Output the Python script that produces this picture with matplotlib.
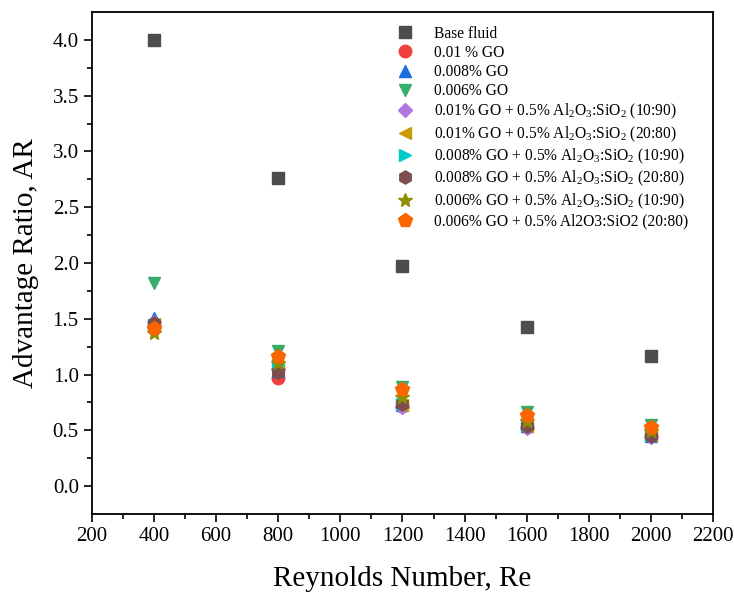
import matplotlib
matplotlib.use("Agg")
import matplotlib.pyplot as plt

plt.rcParams["font.family"] = ["Liberation Serif", "DejaVu Serif"]
plt.rcParams["mathtext.fontset"] = "custom"
plt.rcParams["mathtext.rm"] = "Liberation Serif"
plt.rcParams["mathtext.it"] = "Liberation Serif:italic"

re_vals = [400, 800, 1200, 1600, 2000]

base_fluid = [4.00, 2.76, 1.97, 1.43, 1.17]
go_010 = [1.43, 0.97, 0.72, 0.53, 0.45]
go_008 = [1.51, 1.03, 0.73, 0.54, 0.45]
go_006 = [1.82, 1.21, 0.89, 0.66, 0.55]
go_010_1090 = [1.47, 1.05, 0.71, 0.52, 0.44]
go_010_2080 = [1.45, 1.07, 0.73, 0.54, 0.46]
go_008_1090 = [1.44, 1.09, 0.74, 0.55, 0.46]
go_008_2080 = [1.46, 1.02, 0.74, 0.54, 0.45]
go_006_1090 = [1.37, 1.10, 0.80, 0.58, 0.49]
go_006_2080 = [1.42, 1.17, 0.87, 0.64, 0.53]

labels = [
    "Base fluid",
    "0.01 % GO",
    "0.008% GO",
    "0.006% GO",
    "0.01% GO + 0.5% Al$_2$O$_3$:SiO$_2$ (10:90)",
    "0.01% GO + 0.5% Al$_2$O$_3$:SiO$_2$ (20:80)",
    "0.008% GO + 0.5% Al$_2$O$_3$:SiO$_2$ (10:90)",
    "0.008% GO + 0.5% Al$_2$O$_3$:SiO$_2$ (20:80)",
    "0.006% GO + 0.5% Al$_2$O$_3$:SiO$_2$ (10:90)",
    "0.006% GO + 0.5% Al2O3:SiO2 (20:80)",
]
series = [base_fluid, go_010, go_008, go_006, go_010_1090, go_010_2080,
          go_008_1090, go_008_2080, go_006_1090, go_006_2080]
colors = ["#4d4d4d", "#f14040", "#1a6fdf", "#37ad6b", "#b177de", "#cc9900",
          "#00cbcc", "#7d4e4e", "#8e8e00", "#fb6501"]
markers = ["s", "o", "^", "v", "D", "<", ">", "h", "*", "p"]
sizes = [8, 9, 9, 9, 7.5, 9, 9, 9.5, 10, 10]

fig = plt.figure(figsize=(7.34, 5.93), dpi=100)
ax = fig.add_axes([0.1253, 0.1332, 0.8461, 0.8466])

for y, lab, c, m, ms in zip(series, labels, colors, markers, sizes):
    ax.plot(re_vals, y, ls="none", marker=m, ms=ms, color=c, mec=c, label=lab)

ax.set_xlim(200, 2200)
ax.set_ylim(-0.25, 4.25)
ax.set_xticks(range(200, 2201, 200))
ax.set_xticks(range(300, 2200, 200), minor=True)
ax.set_yticks([0.0, 0.5, 1.0, 1.5, 2.0, 2.5, 3.0, 3.5, 4.0])
ax.set_yticks([0.25, 0.75, 1.25, 1.75, 2.25, 2.75, 3.25, 3.75], minor=True)
ax.yaxis.set_major_formatter(matplotlib.ticker.FormatStrFormatter("%.1f"))
ax.tick_params(which="both", direction="out", top=False, right=False,
               labelsize=15, width=1.2)
ax.tick_params(which="major", length=6)
ax.tick_params(which="minor", length=3.5)
for s in ax.spines.values():
    s.set_linewidth(1.3)

ax.set_xlabel("Reynolds Number, Re", fontsize=21, labelpad=14)
ax.set_ylabel("Advantage Ratio, AR", fontsize=21, labelpad=10)

ax.legend(loc="upper left", bbox_to_anchor=(0.475, 0.985), frameon=False,
          fontsize=11.2, handletextpad=1.15, labelspacing=0.2,
          borderaxespad=0.0, handlelength=1.5)

fig.savefig("out.png", dpi=100)
